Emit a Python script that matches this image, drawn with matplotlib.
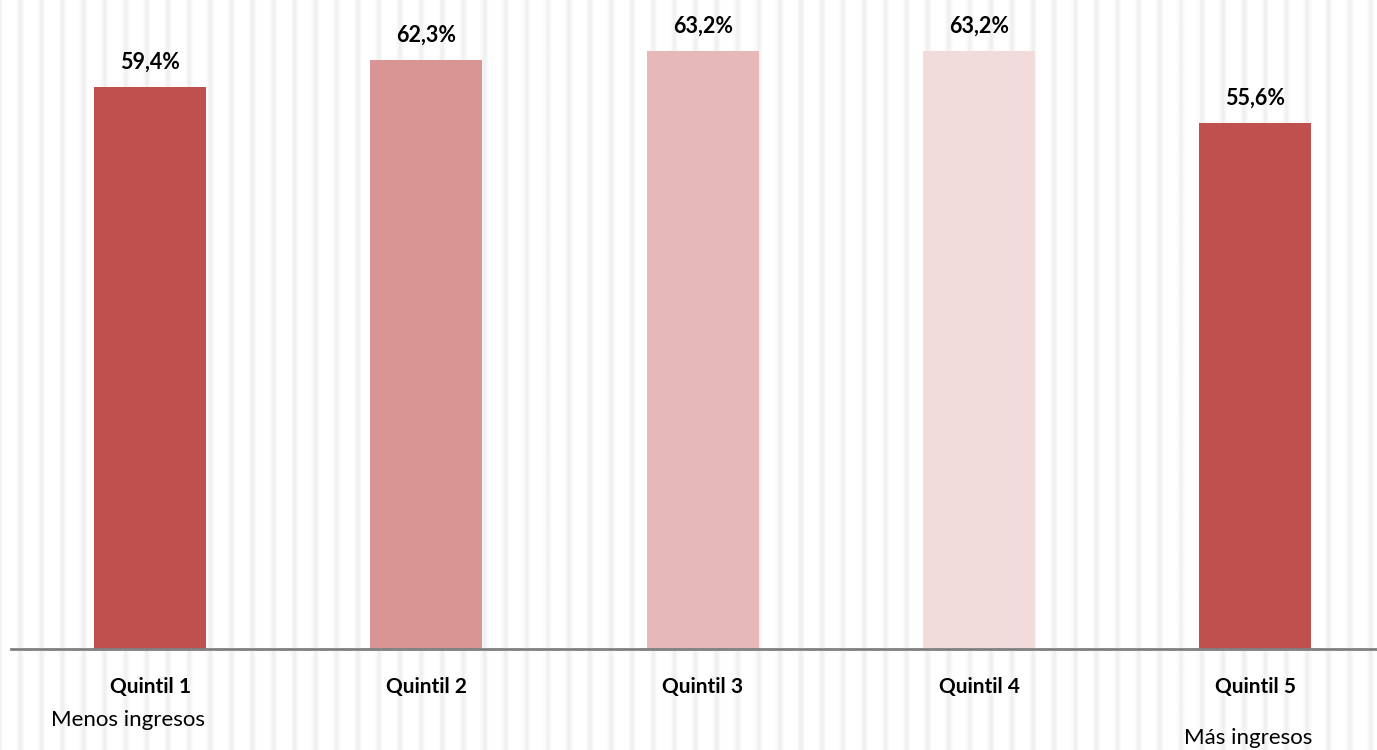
import matplotlib.pyplot as plt
import numpy as np

categories = ['Quintil 1', 'Quintil 2', 'Quintil 3', 'Quintil 4', 'Quintil 5']
values = [59.4, 62.3, 63.2, 63.2, 55.6]
value_labels = ['59,4%', '62,3%', '63,2%', '63,2%', '55,6%']
colors = ['#C0504D', '#D99594', '#E6B9B8', '#F2DCDB', '#C0504D']

fig = plt.figure(figsize=(13.77, 7.5), dpi=100)

# striped background across the whole figure
bg = fig.add_axes([0, 0, 1, 1])
px = np.arange(1377)
phase = (px - 20) % 21.1
dist = np.minimum(phase, 21.1 - phase)
profile = 1 - 0.06 * np.exp(-(dist / 2.8) ** 2)
bg.imshow(np.tile(profile, (10, 1)), cmap='gray', vmin=0, vmax=1,
          aspect='auto', extent=[0, 1, 0, 1], interpolation='bilinear')
bg.set_xlim(0, 1)
bg.set_ylim(0, 1)
bg.axis('off')

ax = fig.add_axes([11 / 1377, (750 - 649) / 750, 1 - 11 / 1377, 649 / 750])
ax.patch.set_alpha(0)
x = np.arange(len(categories))
ax.bar(x, values, width=0.405, color=colors)
for xi, v, lab in zip(x, values, value_labels):
    ax.text(xi, v + 2.6, lab, ha='center', va='center', fontsize=15.5,
            fontweight='bold', family='Lato')

ax.set_xlim(-0.503, 4.44)
ax.set_ylim(0, 68.6)
for s in ['top', 'right', 'left']:
    ax.spines[s].set_visible(False)
ax.spines['bottom'].set_color('#808080')
ax.spines['bottom'].set_linewidth(2)
ax.set_yticks([])
ax.set_xticks(x)
ax.set_xticklabels(categories, fontsize=15, fontweight='bold', family='Lato')
ax.tick_params(axis='x', length=0, pad=20)

fig.text(128 / 1377, 1 - 720 / 750, 'Menos ingresos', ha='center', va='center',
         fontsize=16, family='Lato')
fig.text(1248 / 1377, 1 - 738 / 750, 'Más ingresos', ha='center', va='center',
         fontsize=16, family='Lato')

fig.savefig('out.png', dpi=100)
